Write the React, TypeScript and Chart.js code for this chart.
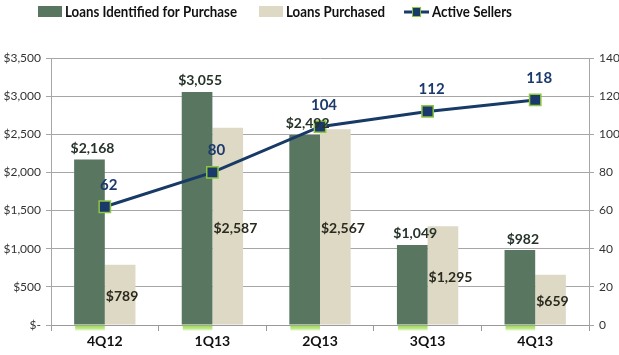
import React, { useEffect, useRef } from 'react';
import { Chart, registerables } from 'chart.js';
Chart.register(...registerables);

const categories = ['4Q12', '1Q13', '2Q13', '3Q13', '4Q13'];
const identified = [2168, 3055, 2492, 1049, 982];
const purchased = [789, 2587, 2567, 1295, 659];
const sellers = [62, 80, 104, 112, 118];
const seriesNames = ['Loans Identified for Purchase', 'Loans Purchased', 'Active Sellers'];

const GREEN = '#587660';
const BEIGE = '#ddd9c5';
const NAVY = '#173a66';
const LIME = '#8dc63f';
const FONT = 'Lato, "Open Sans", sans-serif';

const money = (v: number) => '$' + v.toLocaleString('en-US');

const customPlugin = {
  id: 'custom',
  afterDatasetsDraw(chart: any) {
    const ctx = chart.ctx;
    const m0 = chart.getDatasetMeta(0);
    const m1 = chart.getDatasetMeta(1);
    const m2 = chart.getDatasetMeta(2);
    ctx.save();
    // glow under green bars
    m0.data.forEach((bar: any) => {
      const w = bar.width;
      const x0 = bar.x - w / 2;
      const grad = ctx.createLinearGradient(0, bar.base, 0, bar.base + 7);
      grad.addColorStop(0, 'rgba(140,210,60,1)');
      grad.addColorStop(0.6, 'rgba(170,225,100,0.75)');
      grad.addColorStop(1, 'rgba(200,240,150,0)');
      ctx.fillStyle = grad;
      ctx.fillRect(x0 + 1, bar.base + 1, w - 1, 7);
    });
    ctx.textBaseline = 'middle';
    ctx.font = `bold 14px ${FONT}`;
    ctx.fillStyle = '#26332a';
    ctx.textAlign = 'center';
    m0.data.forEach((bar: any, i: number) => {
      ctx.fillText(money(identified[i]), bar.x + 3, bar.y - 11);
    });
    ctx.textAlign = 'left';
    ctx.fillStyle = '#2b2a1f';
    m1.data.forEach((bar: any, i: number) => {
      ctx.fillText(money(purchased[i]), bar.x - bar.width / 2 + 1, (bar.y + bar.base) / 2 + 2);
    });
    ctx.textAlign = 'center';
    ctx.fillStyle = '#1c3a6c';
    ctx.font = `bold 15px ${FONT}`;
    m2.data.forEach((pt: any, i: number) => {
      ctx.fillText(String(sellers[i]), pt.x + 4, pt.y - 22);
    });
    ctx.restore();
  },
  afterDraw(chart: any) {
    const ctx = chart.ctx;
    ctx.save();
    ctx.font = `bold 16px ${FONT}`;
    ctx.textBaseline = 'middle';
    ctx.textAlign = 'left';
    const sx = 0.83;
    const cy = 12;
    const text = (s: string, x: number) => {
      ctx.save();
      ctx.translate(x, cy);
      ctx.scale(sx, 1);
      ctx.fillStyle = '#111';
      ctx.fillText(s, 0, 0);
      ctx.restore();
      return ctx.measureText(s).width * sx;
    };
    let x = 38;
    ctx.fillStyle = GREEN;
    ctx.fillRect(x, cy - 6, 24, 11);
    x += 27;
    x += text(seriesNames[0], x) + 22;
    ctx.fillStyle = BEIGE;
    ctx.fillRect(x, cy - 6, 24, 11);
    x += 27;
    x += text(seriesNames[1], x) + 19;
    ctx.strokeStyle = NAVY;
    ctx.lineWidth = 3;
    ctx.beginPath();
    ctx.moveTo(x, cy);
    ctx.lineTo(x + 25, cy);
    ctx.stroke();
    ctx.fillStyle = NAVY;
    ctx.fillRect(x + 8, cy - 5, 9, 10);
    ctx.strokeStyle = LIME;
    ctx.lineWidth = 1;
    ctx.strokeRect(x + 8.5, cy - 4.5, 8, 9);
    x += 28;
    text(seriesNames[2], x);
    ctx.restore();
  },
};

export default function App() {
  const ref = useRef<HTMLCanvasElement>(null);
  useEffect(() => {
    document.body.style.margin = '0';
    const chart = new Chart(ref.current!, {
      data: {
        labels: categories,
        datasets: [
          {
            type: 'bar',
            label: seriesNames[0],
            data: identified,
            backgroundColor: GREEN,
            yAxisID: 'y',
            order: 2,
            barPercentage: 1,
            categoryPercentage: 0.57,
          },
          {
            type: 'bar',
            label: seriesNames[1],
            data: purchased,
            backgroundColor: BEIGE,
            yAxisID: 'y',
            order: 2,
            barPercentage: 1,
            categoryPercentage: 0.57,
          },
          {
            type: 'line',
            label: seriesNames[2],
            data: sellers,
            yAxisID: 'y1',
            borderColor: NAVY,
            borderWidth: 3,
            pointStyle: 'rect',
            pointRadius: 8,
            pointBackgroundColor: '#1b3a6b',
            pointBorderColor: LIME,
            pointBorderWidth: 1.5,
            order: 0,
          },
        ] as any,
      },
      options: {
        animation: false,
        responsive: true,
        maintainAspectRatio: false,
        layout: { padding: { top: 58, left: 0, right: 0, bottom: 0 } },
        plugins: { legend: { display: false }, tooltip: { enabled: false } },
        scales: {
          x: {
            grid: { drawOnChartArea: false, drawTicks: true, tickLength: 6, color: '#9a9a9a', offset: true },
            border: { color: '#9a9a9a' },
            ticks: { font: { family: FONT, weight: 'bold', size: 14 }, color: '#111', padding: 2 },
            afterFit: (s: any) => { s.height = 30; },
          },
          y: {
            position: 'left',
            min: 0,
            max: 3500,
            ticks: {
              stepSize: 500,
              callback: (v: any) => (v === 0 ? '$-' : money(Number(v))),
              font: { family: FONT, size: 12 },
              color: '#333',
              padding: 5,
            },
            grid: { color: '#a6a6a6', tickLength: 5 },
            border: { color: '#a6a6a6' },
            afterFit: (s: any) => { s.width = 51; },
          },
          y1: {
            position: 'right',
            min: 0,
            max: 140,
            ticks: { stepSize: 20, font: { family: FONT, size: 12 }, color: '#333', padding: 5 },
            grid: { drawOnChartArea: false, tickLength: 5, color: '#a6a6a6' },
            border: { color: '#a6a6a6' },
            afterFit: (s: any) => { s.width = 30; },
          },
        },
      } as any,
      plugins: [customPlugin],
    });
    return () => chart.destroy();
  }, []);
  return (
    <div style={{ width: 619, height: 355, position: 'relative' }}>
      <canvas ref={ref} />
    </div>
  );
}
